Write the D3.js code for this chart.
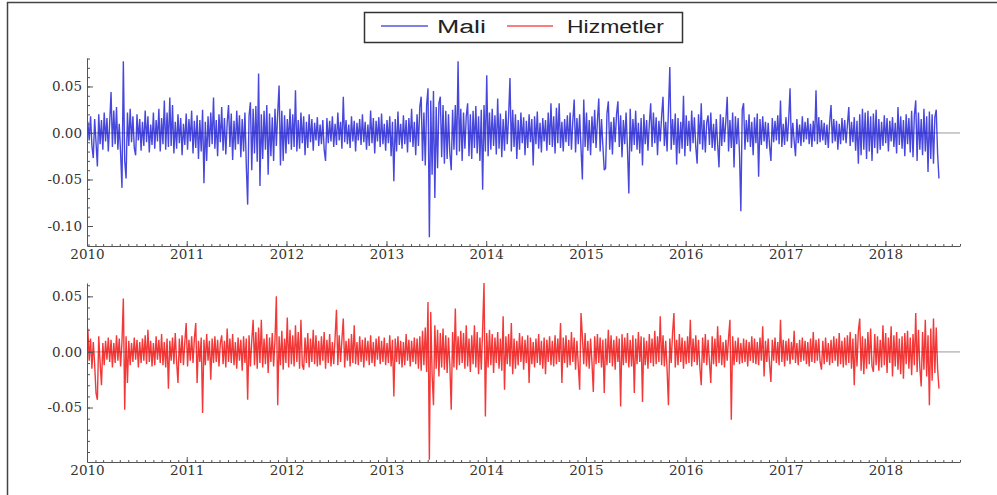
<!DOCTYPE html>
<html>
<head>
<meta charset="utf-8">
<script src="https://cdn.jsdelivr.net/npm/d3@7"></script>
<style>
body { margin: 0; background: #fff; }
svg { display: block; }
</style>
</head>
<body>
<div id="chart"></div>
<script>
var seriesNames = ["Mali", "Hizmetler"];
var seriesColors = ["#0000d0", "#f00000"];

// one reading every 5 days from 4 Jan 2010, values in thousandths
var startDate = new Date(2010, 0, 4);
var stepDays = 5;

var maliVals = [
  12, -8, 18, -14, -27, 15, -10, -36, 20, -12,
  14, -18, 22, -9, 16, -20, 11, 44, -15, 24,
  -12, 28, -18, 10, -22, -59, 77, -30, -49, 22,
  -14, 26, -10, 18, -16, -24, 20, -8, 15, -19,
  12, -14, 24, -10, 18, -21, 9, -13, 22, -17,
  14, -9, 26, -20, 16, -12, 35, -18, 22, -15,
  38, -14, 30, -22, 12, -17, 20, -11, 16, -24,
  10, -13, 21, -18, 15, -9, 24, -22, 13, -16,
  19, -28, 14, -20, 25, -54, 12, -30, 18, -15,
  22, -12, 38, -17, 14, -25, 20, -10, 28, -19,
  16, -23, 11, 30, -15, 21, -29, 13, -18, 24,
  -12, 19, -26, 15, -20, 22, -35, -77, 18, 33,
  -40, 26, -22, 29, -31, 64, -57, 20, -28, 24,
  -18, 30, -45, 21, -25, 17, -30, 26, -14, 22,
  51, -35, 24, -30, 19, -22, 15, -12, 26, -18,
  20, -15, 46, -20, 14, -17, 22, -11, 18, -24,
  12, -16, 20, -10, 15, -19, 11, -8, 17, -14,
  9, -12, 14, -18, -30, 16, -11, 13, -9, 18,
  -15, 10, -13, 22, -8, 12, -17, 39, -10, 14,
  -12, 9, -16, 18, -9, 13, -20, 11, -8, 15,
  -13, 20, -10, 12, -18, 9, -14, 24, -11, 16,
  -22, 13, -9, 17, -15, 21, -12, 10, -19, 14,
  -11, 18, -25, 12, -52, 15, -20, 23, -13, 10,
  -17, 19, -12, 14, -21, 16, -10, 26, -15, 12,
  -24, 20, -14, 28, 39, -30, 22, -35, 30, 48,
  -112, 35, -45, 45, -70, 28, -38, 32, 39, -26,
  30, -33, 24, -28, 20, -22, -40, 25, -18, 30,
  -24, 77, -20, 26, -30, 22, -17, 18, 32, -25,
  20, -28, 24, -16, 29, -22, 18, -30, 25, -61,
  30, -20, 62, -25, 22, -18, 26, -14, 19, -23,
  37, -17, 21, -26, 15, -19, 24, -12, 18, 59,
  -20, 25, -15, 20, -28, 14, -18, 22, -11, 17,
  -24, 13, -16, 20, -10, 15, -35, 18, -12, 23,
  -17, 11, -21, 16, -9, 14, -19, 22, -13, 32,
  -15, 18, -22, 27, -11, 32, -16, 12, -20, 15,
  -10, 19, -14, 22, -18, 13, 36, -21, 16, -12,
  20, -17, -50, 36, -15, 22, -19, 14, -24, 18,
  -11, 25, -16, 13, 37, -20, 15, -14, -40, -38,
  21, 34, -18, 12, -23, 17, -10, 20, 34, -15,
  19, -26, 14, -12, 22, -17, -65, 26, -20, 15,
  -13, 24, -18, 11, -22, 16, -35, 20, -12, 14,
  -19, 10, 32, -15, 22, -11, 17, -24, 13, -9,
  18, 39, -14, 12, -20, 25, 71, -18, 15, -13,
  21, -34, 16, -22, 12, -17, 40, -25, 19, -14,
  13, -20, 24, -11, 17, -15, -33, 20, -12, 32,
  -18, 14, -21, 11, 19, -13, 22, -16, 10, -19,
  15, -12, -37, 20, -14, 17, -10, 13, 39, -20,
  14, -16, 22, -37, 18, -12, 16, -22, -84, 25,
  32, -18, 14, -10, 20, -15, 12, -24, 17, -11,
  21, -47, 15, -13, 18, -9, 12, -17, 11, -14,
  -30, 16, -10, 13, -8, 19, -12, 35, -15, 10,
  -13, 17, -9, 14, 48, -16, 11, -8, -25, 15,
  -11, 9, -14, 18, -10, 12, -7, 16, -12, 10,
  -15, 13, -9, 46, -12, 17, -10, 14, -8, 11,
  -13, 9, -16, 12, 30, -11, 15, -9, 13, -18,
  10, -12, 16, -8, 14, -11, 9, 28, -14, 12,
  -10, 17, -19, 13, -33, 20, -24, 26, -18, 22,
  -28, 24, -20, 18, -30, 21, -16, 25, -22, 15,
  -18, 12, -14, 19, -11, 16, -20, 13, -9, 17,
  -15, 11, -22, 28, -13, 18, -17, 14, -25, 20,
  -12, 16, -21, 24, -26, 19, 35, -30, 22, -18,
  15, -24, 26, -20, 18, -42, 23, -28, 20, -33,
  17, 25, -22, -49
];

var hizmetlerVals = [
  21, -8, 12, -15, 9, -11, -37, -43, 14, -10,
  -30, 8, -12, 10, -7, 13, -9, 11, -14, 8,
  -10, 15, -8, 12, -13, 9, 48, -52, 14, -28,
  10, -12, 8, -9, 13, -7, 11, -14, 9, -10,
  12, -8, 15, -11, 20, -9, 10, -13, 8, -12,
  14, -7, 11, -10, 16, -12, 9, -14, 12, -33,
  10, -8, 13, -11, 17, -9, -28, 12, -10, 15,
  -12, 9, 26, -13, 11, -8, 14, -10, 12, 26,
  -28, 10, -9, 13, -55, 11, -12, 16, -8, 10,
  -25, 12, -10, 14, -9, 11, -13, 8, 15, -11,
  10, -14, 21, -9, 12, -10, 16, -12, 9, -15,
  13, -8, 11, -17, 14, -10, 12, -43, 15, -13,
  10, 29, -12, 18, -15, 22, -10, 29, -14, 12,
  -11, 16, -19, 13, -9, 17, -13, 11, 50, -48,
  14, -12, 19, -16, 12, -10, 31, -14, 20, -11,
  15, -13, 24, -9, 18, -15, 29, -12, -16, 13,
  -10, 17, -14, 12, -9, 20, -11, 15, -13, 10,
  -12, 14, -8, 18, -15, 11, -10, 16, -13, 9,
  -11, 13, 38, -12, 15, -9, 11, 30, -14, 10,
  -8, 12, -13, 16, -10, 24, -11, 9, -12, 14,
  -9, 11, -14, 13, -8, 10, -12, 15, -10, 9,
  -13, 12, -7, 14, -11, 10, -9, 13, -12, 8,
  -10, 15, -13, 11, -40, 12, -9, 14, -11, 10,
  -14, 9, -12, 16, -8, 11, -13, 10, -9, 13,
  -11, 12, -15, 14, -17, 19, -12, 22, -18, 45,
  -97, 36, -20, -48, 24, -15, 20, -22, 17, -14,
  21, -16, 15, -19, 13, -12, -52, 18, -14, 39,
  -16, 14, -12, 19, -10, 17, -15, 24, -13, 12,
  -18, 15, -11, 24, -14, 18, -20, 13, -16, 21,
  62, -58, 17, -14, 20, -12, 16, -19, 13, -10,
  18, -15, 12, -17, 32, -34, 14, -11, 16, -13,
  26, -20, 12, -15, 10, -12, 17, -9, 14, -16,
  11, -10, 15, -28, 13, -11, 9, -14, 12, -10,
  16, -12, 10, -15, 13, -20, 11, -9, 14, -12,
  10, -13, 15, -11, 12, -9, 26, -28, 13, -10,
  15, -14, 11, -12, 18, -9, 13, -16, 10, -12,
  -34, 35, 14, -11, 17, -13, 10, -15, 12, -9,
  -36, 14, -11, 16, -10, 13, -14, 11, -37, 12,
  -12, 20, -10, 15, -13, 11, -16, 14, -9, 12,
  -49, 16, -12, 13, -10, 17, -14, 11, -13, 15,
  -37, 12, -11, 18, -9, 14, -45, 13, -12, 10,
  -15, 16, -10, 12, -13, 19, -11, 14, -9, 32,
  -12, 15, -13, 10, -16, -48, 12, -10, 17, 35,
  -14, 11, -12, 16, -9, 13, -15, 10, -11, 14,
  -10, 29, -13, 12, -9, 15, -12, 11, -14, -30,
  13, -10, 16, -12, 11, -9, -28, 14, -11, 12,
  -13, 23, -10, 15, -12, 9, -14, 11, -8, 13,
  29, -61, 14, -12, 10, -9, 13, -11, 8, -10,
  12, -9, 11, -13, 9, -8, 14, -10, 12, -11,
  9, -12, 13, -8, 23, -22, 10, -9, 12, -11,
  -27, 11, -8, 13, -10, 9, -12, 29, -9, 11,
  -13, 10, -8, 12, -11, 9, -7, 19, -10, 8,
  -12, 11, -9, 13, -8, 10, -11, 9, -13, 12,
  -9, 18, -10, 11, -8, 12, -9, -16, 10, -11,
  13, -9, 8, -12, 11, -10, 14, -8, 12, -13,
  17, -11, 10, -14, 13, -12, 15, -10, 18, -15,
  12, -30, 16, -13, 19, 30, -17, 14, -20, 12,
  -15, 18, -11, 21, -13, -18, 16, -12, 14, -17,
  11, -14, 24, -12, 17, -19, 13, -10, 23, -22,
  15, -13, 18, -16, 12, -20, 14, -24, 17, -11,
  19, -15, 13, -21, 16, -12, 35, -18, 20, -14,
  -31, 18, -16, 29, -22, 15, -48, 21, -26, 30,
  -19, 22, -15, -33
];

var yearTicks = [2010, 2011, 2012, 2013, 2014, 2015, 2016, 2017, 2018];
var upperTicks = [-0.10, -0.05, 0, 0.05];
var upperTickLabels = ["-0.10", "-0.05", "0.00", "0.05"];
var lowerTicks = [-0.05, 0, 0.05];
var lowerTickLabels = ["-0.05", "0.00", "0.05"];

var svgWidth = 997;
var svgHeight = 495;

var svg = d3.select("#chart").append("svg")
    .attr("width", svgWidth)
    .attr("height", svgHeight);

// frame
svg.append("line").attr("x1", 7).attr("x2", svgWidth).attr("y1", 2.5).attr("y2", 2.5)
    .attr("stroke", "#444").attr("stroke-width", 1.5);
svg.append("line").attr("x1", 7.5).attr("x2", 7.5).attr("y1", 2).attr("y2", svgHeight)
    .attr("stroke", "#444").attr("stroke-width", 1.5);

var x = d3.scaleTime()
    .domain([new Date(2010, 0, 1), new Date(2018, 9, 1)])
    .range([87, 960]);

function toPoints(vals) {
    return vals.map(function(v, i) {
        return {date: d3.timeDay.offset(startDate, i * stepDays), value: v / 1000};
    });
}

var panels = [
    {vals: maliVals, color: seriesColors[0], opacity: 0.72, domain: [-0.1215, 0.0806], range: [246, 58],
     ticks: upperTicks, labels: upperTickLabels, minorFrom: -0.12, minorTo: 0.08},
    {vals: hizmetlerVals, color: seriesColors[1], opacity: 0.78, domain: [-0.099, 0.062], range: [462, 283],
     ticks: lowerTicks, labels: lowerTickLabels, minorFrom: -0.09, minorTo: 0.06}
];

var tickFont = "'DejaVu Serif', serif";

panels.forEach(function(p) {
    var y = d3.scaleLinear().domain(p.domain).range(p.range);
    var g = svg.append("g");

    // zero line
    g.append("line")
        .attr("x1", x.range()[0]).attr("x2", x.range()[1])
        .attr("y1", y(0)).attr("y2", y(0))
        .attr("stroke", "#999").attr("stroke-width", 1);

    var line = d3.line()
        .x(function(d) { return x(d.date); })
        .y(function(d) { return y(d.value); });

    g.append("path")
        .datum(toPoints(p.vals))
        .attr("fill", "none")
        .attr("stroke", p.color)
        .attr("stroke-opacity", p.opacity)
        .attr("stroke-width", 1.4)
        .attr("stroke-linejoin", "bevel")
        .attr("d", line);

    // minor ticks, monthly and every 0.01
    var minorX = d3.axisBottom(x).ticks(d3.timeMonth.every(1))
        .tickSizeInner(-2).tickSizeOuter(0).tickFormat("");
    g.append("g").attr("transform", "translate(0," + p.range[0] + ")")
        .call(minorX)
        .call(function(s) { s.select(".domain").remove(); })
        .selectAll("line").attr("stroke", "#555");

    var minorYVals = d3.range(Math.round(p.minorFrom * 100), Math.round(p.minorTo * 100) + 1)
        .map(function(v) { return v / 100; });
    var minorY = d3.axisLeft(y).tickValues(minorYVals)
        .tickSizeInner(-3).tickSizeOuter(0).tickFormat("");
    g.append("g").attr("transform", "translate(" + x.range()[0] + ",0)")
        .call(minorY)
        .call(function(s) { s.select(".domain").remove(); })
        .selectAll("line").attr("stroke", "#555");

    // major axes
    var xAxis = d3.axisBottom(x)
        .tickValues(yearTicks.map(function(yr) { return new Date(yr, 0, 1); }))
        .tickSizeInner(-5).tickSizeOuter(0).tickPadding(3)
        .tickFormat(function(d, i) { return yearTicks[i]; });
    var gx = g.append("g").attr("transform", "translate(0," + p.range[0] + ")").call(xAxis);
    gx.select(".domain").attr("stroke", "#555");
    gx.selectAll("line").attr("stroke", "#555");
    gx.selectAll("text").attr("font-family", tickFont).attr("font-size", 13.5).attr("fill", "#333");

    var yAxis = d3.axisLeft(y)
        .tickValues(p.ticks)
        .tickSizeInner(-6).tickSizeOuter(0).tickPadding(5)
        .tickFormat(function(d, i) { return p.labels[i]; });
    var gy = g.append("g").attr("transform", "translate(" + x.range()[0] + ",0)").call(yAxis);
    gy.select(".domain").attr("stroke", "#555");
    gy.selectAll("line").attr("stroke", "#555");
    gy.selectAll("text").attr("font-family", tickFont).attr("font-size", 13.5).attr("fill", "#333");
});

// legend
var legend = svg.append("g");
legend.append("rect")
    .attr("x", 364.5).attr("y", 12.5).attr("width", 318).attr("height", 30)
    .attr("fill", "#fff").attr("stroke", "#333").attr("stroke-width", 1.5);
var legendItems = [
    {name: seriesNames[0], color: seriesColors[0], x1: 381, x2: 428, tx: 437, tl: 49},
    {name: seriesNames[1], color: seriesColors[1], x1: 507, x2: 553, tx: 567, tl: 97}
];
legendItems.forEach(function(d) {
    legend.append("line")
        .attr("x1", d.x1).attr("x2", d.x2).attr("y1", 26).attr("y2", 26)
        .attr("stroke", d.color).attr("stroke-width", 1.2);
    legend.append("text")
        .attr("x", d.tx).attr("y", 33)
        .attr("textLength", d.tl).attr("lengthAdjust", "spacingAndGlyphs")
        .attr("font-family", "'Liberation Sans', Arial, sans-serif")
        .attr("font-size", 18).attr("fill", "#222")
        .text(d.name);
});
</script>
</body>
</html>
